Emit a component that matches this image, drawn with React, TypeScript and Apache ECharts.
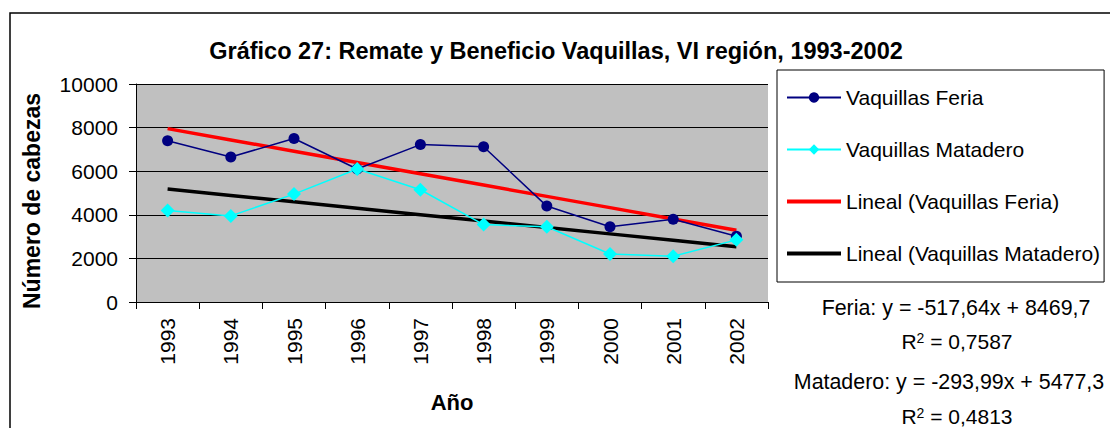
import React, { useEffect, useRef } from "react";
import * as echarts from "echarts";

const years = ["1993", "1994", "1995", "1996", "1997", "1998", "1999", "2000", "2001", "2002"];
const feria = [7400, 6650, 7500, 6100, 7220, 7120, 4400, 3450, 3800, 3020];
const matadero = [4200, 3950, 4950, 6100, 5150, 3550, 3450, 2200, 2100, 2850];
const feriaTrend = { slope: -517.64, intercept: 8469.7, r2: "0,7587", label: "Feria: y = -517,64x + 8469,7" };
const mataderoTrend = { slope: -293.99, intercept: 5477.3, r2: "0,4813", label: "Matadero: y = -293,99x + 5477,3" };
const yTicks = { min: 0, max: 10000, interval: 2000 };

const FONT = "'Liberation Sans', Arial, sans-serif";
const FS = 21;

export default function App() {
  const ref = useRef<HTMLDivElement>(null);
  useEffect(() => {
    document.body.style.margin = "0";
    const chart = echarts.init(ref.current!, null, { renderer: "svg" });
    const trend = (t: { slope: number; intercept: number }) =>
      years.map((_, i) => Math.round((t.slope * (i + 1) + t.intercept) * 10) / 10);
    const r2Text = (x: number, y: number, v: string) => ({
      type: "text",
      x,
      y,
      style: {
        text: "{a|R}{s|2}{a| = " + v + "}",
        fontFamily: FONT,
        align: "center",
        verticalAlign: "middle",
        rich: {
          a: { fontFamily: FONT, fontSize: FS, fill: "#000", verticalAlign: "bottom" },
          s: { fontFamily: FONT, fontSize: 14, fill: "#000", verticalAlign: "top" },
        },
      },
    });
    chart.setOption({
      animation: false,
      textStyle: { fontFamily: FONT, color: "#000" },
      title: {
        text: "Gráfico 27: Remate y Beneficio Vaquillas, VI región, 1993-2002",
        left: 551,
        textAlign: "center",
        top: 34,
        textStyle: { fontFamily: FONT, fontSize: 23.5, fontWeight: "bold", color: "#000" },
      },
      grid: {
        left: 136,
        top: 84,
        width: 632,
        height: 218,
        show: true,
        backgroundColor: "#c0c0c0",
        borderWidth: 0,
      },
      legend: {
        orient: "vertical",
        left: 777,
        top: 70,
        padding: [17, 4, 18, 8],
        itemGap: 31,
        itemWidth: 54,
        itemHeight: 13,
        backgroundColor: "#fff",
        borderColor: "#000",
        borderWidth: 1,
        textStyle: { fontFamily: FONT, fontSize: FS, color: "#000" },
        data: [
          { name: "Vaquillas Feria" },
          { name: "Vaquillas Matadero" },
          { name: "Lineal (Vaquillas Feria)", itemStyle: { opacity: 0 }, lineStyle: { width: 4 } },
          { name: "Lineal (Vaquillas Matadero)", itemStyle: { opacity: 0 }, lineStyle: { width: 4 } },
        ],
      },
      xAxis: {
        type: "category",
        data: years,
        boundaryGap: true,
        name: "Año",
        nameLocation: "middle",
        nameGap: 89,
        nameTextStyle: { fontFamily: FONT, fontSize: 22, fontWeight: "bold", color: "#000" },
        axisLine: { lineStyle: { color: "#000", width: 1 } },
        axisTick: { show: true, length: 7, alignWithLabel: false, lineStyle: { color: "#000" } },
        axisLabel: { rotate: 90, fontSize: FS, margin: 16, color: "#000", fontFamily: FONT },
      },
      yAxis: {
        type: "value",
        min: yTicks.min,
        max: yTicks.max,
        interval: yTicks.interval,
        axisLine: { show: true, lineStyle: { color: "#000", width: 1 } },
        axisTick: { show: true, length: 7, lineStyle: { color: "#000" } },
        axisLabel: {
          fontSize: FS,
          margin: 18,
          color: "#000",
          fontFamily: FONT,
          formatter: (v: number) => String(v),
        },
        splitLine: { show: true, lineStyle: { color: "#000", width: 1 } },
      },
      series: [
        {
          name: "Lineal (Vaquillas Feria)",
          type: "line",
          data: trend(feriaTrend),
          symbol: "none",
          lineStyle: { color: "#ff0000", width: 3.5 },
          itemStyle: { color: "#ff0000" },
          z: 2,
        },
        {
          name: "Lineal (Vaquillas Matadero)",
          type: "line",
          data: trend(mataderoTrend),
          symbol: "none",
          lineStyle: { color: "#000000", width: 3.5 },
          itemStyle: { color: "#000000" },
          z: 2,
        },
        {
          name: "Vaquillas Feria",
          type: "line",
          data: feria,
          symbol: "circle",
          symbolSize: 11,
          lineStyle: { color: "#000080", width: 1.5 },
          itemStyle: { color: "#000080" },
          z: 3,
        },
        {
          name: "Vaquillas Matadero",
          type: "line",
          data: matadero,
          symbol: "diamond",
          symbolSize: 14,
          lineStyle: { color: "#00ffff", width: 1.5 },
          itemStyle: { color: "#00ffff" },
          z: 3,
        },
      ],
      graphic: [
        {
          type: "rect",
          shape: { x: 10, y: 13, width: 1200, height: 500 },
          style: { fill: "none", stroke: "#000", lineWidth: 1.5 },
          silent: true,
          z: 0,
        },
        {
          type: "text",
          x: 32,
          y: 201,
          rotation: Math.PI / 2,
          style: {
            text: "Número de cabezas",
            fontFamily: FONT,
            fontSize: 23,
            fontWeight: "bold",
            fill: "#000",
            align: "center",
            verticalAlign: "middle",
          },
        },
        {
          type: "text",
          x: 956,
          y: 308,
          style: {
            text: feriaTrend.label,
            fontFamily: FONT,
            fontSize: 21.4,
            fill: "#000",
            align: "center",
            verticalAlign: "middle",
          },
        },
        r2Text(957, 341, feriaTrend.r2),
        {
          type: "text",
          x: 949,
          y: 382,
          style: {
            text: mataderoTrend.label,
            fontFamily: FONT,
            fontSize: 21.4,
            fill: "#000",
            align: "center",
            verticalAlign: "middle",
          },
        },
        r2Text(957, 416, mataderoTrend.r2),
      ],
    });
    return () => chart.dispose();
  }, []);
  return <div ref={ref} style={{ width: 1110, height: 428, background: "#fff" }} />;
}
